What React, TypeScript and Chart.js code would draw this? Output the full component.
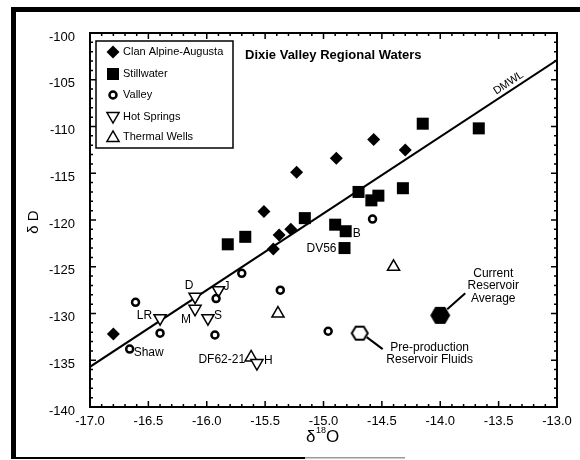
import React, { useEffect, useRef } from 'react';
import { Chart, registerables } from 'chart.js';

Chart.register(...registerables);

const FONT = '"Liberation Sans", Arial, Helvetica, sans-serif';

// ---- data ----
const clanAlpineX = [-16.8, -15.43, -15.38, -15.28, -15.51, -15.23, -14.89, -14.57, -14.3];
const clanAlpineY = [-132.2, -123.1, -121.6, -121.0, -119.1, -114.9, -113.4, -111.4, -112.5];

const stillwaterX = [-15.82, -15.67, -15.16, -14.9, -14.81, -14.82, -14.7, -14.59, -14.53, -14.32, -14.15, -13.67];
const stillwaterY = [-122.6, -121.8, -119.8, -120.5, -121.2, -123.0, -117.0, -117.9, -117.4, -116.6, -109.7, -110.2];
const stillwaterLabels = ['', '', '', '', 'B', 'DV56', '', '', '', '', '', ''];

const valleyX = [-16.61, -16.66, -16.4, -15.92, -15.93, -15.7, -15.37, -14.58, -14.96];
const valleyY = [-128.8, -133.8, -132.1, -128.4, -132.3, -125.7, -127.5, -119.9, -131.9];
const valleyLabels = ['', 'Shaw', '', '', '', '', '', '', ''];

const hotSpringsX = [-16.4, -16.1, -16.1, -15.99, -15.9, -15.57];
const hotSpringsY = [-130.5, -128.2, -129.5, -130.5, -127.5, -135.3];
const hotSpringsLabels = ['LR', 'D', 'M', 'S', 'J', 'H'];

const thermalX = [-15.62, -15.39, -14.4];
const thermalY = [-134.7, -130.0, -125.0];
const thermalLabels = ['DF62-21', '', ''];

const currentX = [-14.0];
const currentY = [-130.2];
const preProdX = [-14.69];
const preProdY = [-132.1];

const dmwlX = [-17, -13];
const dmwlY = [-135.7, -102.9];

const seriesNames = ['Clan Alpine-Augusta', 'Stillwater', 'Valley', 'Hot Springs', 'Thermal Wells'];
const xTickMin = -17;
const xTickMax = -13;
const yTickMin = -140;
const yTickMax = -100;

const pts = (xs: number[], ys: number[]) => xs.map((x, i) => ({ x, y: ys[i] }));

// label placement (px offsets from the mark; style only)
const labelPlacement: Record<string, { dx: number; dy: number; align: CanvasTextAlign }> = {
  LR: { dx: -8, dy: -2, align: 'right' },
  D: { dx: -6, dy: -11, align: 'center' },
  M: { dx: -9, dy: 11, align: 'center' },
  S: { dx: 6, dy: -2, align: 'left' },
  J: { dx: 5, dy: -3, align: 'left' },
  H: { dx: 7, dy: -2, align: 'left' },
  Shaw: { dx: 4, dy: 4, align: 'left' },
  'DF62-21': { dx: -6, dy: 2, align: 'right' },
  B: { dx: 7, dy: 2, align: 'left' },
  DV56: { dx: -8, dy: 1, align: 'right' },
};

function hexCanvas(w: number, h: number, filled: boolean) {
  const lw = 2;
  const c = document.createElement('canvas');
  c.width = w + lw * 2;
  c.height = h + lw * 2;
  const g = c.getContext('2d')!;
  const cx = c.width / 2, cy = c.height / 2, rx = w / 2, ry = h / 2;
  g.beginPath();
  g.moveTo(cx - rx, cy);
  g.lineTo(cx - rx / 2, cy - ry);
  g.lineTo(cx + rx / 2, cy - ry);
  g.lineTo(cx + rx, cy);
  g.lineTo(cx + rx / 2, cy + ry);
  g.lineTo(cx - rx / 2, cy + ry);
  g.closePath();
  if (filled) {
    g.fillStyle = '#000';
    g.fill();
  } else {
    g.fillStyle = '#fff';
    g.fill();
    g.lineWidth = lw;
    g.strokeStyle = '#000';
    g.stroke();
  }
  return c;
}

function drawMarker(ctx: CanvasRenderingContext2D, kind: number, x: number, y: number) {
  ctx.save();
  ctx.fillStyle = '#000';
  ctx.strokeStyle = '#000';
  ctx.beginPath();
  if (kind === 0) {
    const r = 6.5;
    ctx.moveTo(x - r, y); ctx.lineTo(x, y - r); ctx.lineTo(x + r, y); ctx.lineTo(x, y + r); ctx.closePath();
    ctx.fill();
  } else if (kind === 1) {
    ctx.rect(x - 6, y - 6, 12, 12);
    ctx.fill();
  } else if (kind === 2) {
    ctx.lineWidth = 2.5;
    ctx.arc(x, y, 3.5, 0, Math.PI * 2);
    ctx.stroke();
  } else if (kind === 3) {
    const r = 7;
    ctx.lineWidth = 1.5;
    ctx.moveTo(x - r * 0.866, y - r * 0.5 - 1); ctx.lineTo(x + r * 0.866, y - r * 0.5 - 1); ctx.lineTo(x, y + r - 1); ctx.closePath();
    ctx.stroke();
  } else {
    const r = 7;
    ctx.lineWidth = 1.5;
    ctx.moveTo(x - r * 0.866, y + r * 0.5 + 1); ctx.lineTo(x + r * 0.866, y + r * 0.5 + 1); ctx.lineTo(x, y - r + 1); ctx.closePath();
    ctx.stroke();
  }
  ctx.restore();
}

const decorPlugin = {
  id: 'decor',
  afterDatasetsDraw(chart: any) {
    const ctx: CanvasRenderingContext2D = chart.ctx;
    const xs = chart.scales.x, ys = chart.scales.y, a = chart.chartArea;
    ctx.save();
    // outer frame
    ctx.fillStyle = '#000';
    ctx.fillRect(11, 7, 5, 452);
    ctx.fillRect(11, 7, 569, 5);
    ctx.fillRect(11, 457, 294, 2);
    ctx.fillStyle = '#999';
    ctx.fillRect(305, 457, 100, 1.5);

    // inside ticks
    ctx.strokeStyle = '#000';
    ctx.lineWidth = 1.5;
    const nx = Math.round((xTickMax - xTickMin) / 0.1);
    for (let i = 0; i <= nx; i++) {
      const px = xs.getPixelForValue(xTickMin + i * 0.1);
      const len = i % 5 === 0 ? 6 : 3;
      ctx.beginPath();
      ctx.moveTo(px, a.bottom); ctx.lineTo(px, a.bottom - len);
      ctx.moveTo(px, a.top); ctx.lineTo(px, a.top + len);
      ctx.stroke();
    }
    const ny = yTickMax - yTickMin;
    for (let i = 0; i <= ny; i++) {
      const py = ys.getPixelForValue(yTickMin + i);
      const len = i % 5 === 0 ? 6 : 3;
      ctx.beginPath();
      ctx.moveTo(a.left, py); ctx.lineTo(a.left + len, py);
      ctx.moveTo(a.right, py); ctx.lineTo(a.right - len, py);
      ctx.stroke();
    }
    ctx.lineWidth = 2;
    ctx.strokeRect(a.left, a.top, a.right - a.left, a.bottom - a.top);

    // title
    ctx.fillStyle = '#000';
    ctx.font = `bold 13px ${FONT}`;
    ctx.textAlign = 'left';
    ctx.textBaseline = 'middle';
    ctx.fillText('Dixie Valley Regional Waters', 245, 55);

    // legend
    ctx.fillStyle = '#fff';
    ctx.fillRect(96, 41, 137, 107);
    ctx.strokeStyle = '#000';
    ctx.lineWidth = 1.5;
    ctx.strokeRect(96, 41, 137, 107);
    const rows = [52, 74, 95, 117, 137];
    ctx.font = `11px ${FONT}`;
    ctx.fillStyle = '#000';
    seriesNames.forEach((n, i) => {
      drawMarker(ctx, i, 113, rows[i]);
      ctx.fillStyle = '#000';
      ctx.textAlign = 'left';
      ctx.fillText(n, 123, rows[i]);
    });

    // point labels
    ctx.font = `12px ${FONT}`;
    const labelSets: [number, string[]][] = [[1, stillwaterLabels], [2, valleyLabels], [3, hotSpringsLabels], [4, thermalLabels]];
    labelSets.forEach(([di, labels]) => {
      const meta = chart.getDatasetMeta(di);
      labels.forEach((lab, i) => {
        if (!lab) return;
        const el = meta.data[i];
        const p = labelPlacement[lab];
        ctx.textAlign = p.align;
        ctx.fillText(lab, el.x + p.dx, el.y + p.dy);
      });
    });

    // current reservoir annotation
    const cur = chart.getDatasetMeta(5).data[0];
    ctx.lineWidth = 2;
    ctx.beginPath();
    ctx.moveTo(cur.x + 7, cur.y - 6); ctx.lineTo(cur.x + 25, cur.y - 22);
    ctx.stroke();
    ctx.textAlign = 'center';
    ctx.fillText('Current', cur.x + 53, cur.y - 42);
    ctx.fillText('Reservoir', cur.x + 53, cur.y - 29.5);
    ctx.fillText('Average', cur.x + 53, cur.y - 17);

    const pre = chart.getDatasetMeta(6).data[0];
    ctx.beginPath();
    ctx.moveTo(pre.x + 7, pre.y + 4); ctx.lineTo(pre.x + 23, pre.y + 16);
    ctx.stroke();
    ctx.fillText('Pre-production', pre.x + 70, pre.y + 15);
    ctx.fillText('Reservoir Fluids', pre.x + 70, pre.y + 27);

    // DMWL label along the line
    const x0 = xs.getPixelForValue(dmwlX[0]), y0 = ys.getPixelForValue(dmwlY[0]);
    const x1 = xs.getPixelForValue(dmwlX[1]), y1 = ys.getPixelForValue(dmwlY[1]);
    const ang = Math.atan2(y1 - y0, x1 - x0);
    const t = 0.905;
    const lx = x0 + (x1 - x0) * t, ly = y0 + (y1 - y0) * t;
    ctx.save();
    ctx.translate(lx, ly);
    ctx.rotate(ang);
    ctx.font = `11px ${FONT}`;
    ctx.textAlign = 'center';
    ctx.textBaseline = 'bottom';
    ctx.fillText('DMWL', 0, -2);
    ctx.restore();

    // axis titles
    ctx.save();
    ctx.translate(34, 222);
    ctx.rotate(-Math.PI / 2);
    ctx.font = `15px ${FONT}`;
    ctx.textAlign = 'center';
    ctx.textBaseline = 'middle';
    ctx.fillText('δ D', 0, 0);
    ctx.restore();

    ctx.textAlign = 'left';
    ctx.textBaseline = 'alphabetic';
    ctx.font = `17px ${FONT}`;
    ctx.fillText('δ', 306, 442);
    ctx.font = `9px ${FONT}`;
    ctx.fillText('18', 316, 433);
    ctx.font = `17px ${FONT}`;
    ctx.fillText('O', 326, 442);
    ctx.restore();
  },
};

export default function App() {
  const ref = useRef<HTMLCanvasElement>(null);
  useEffect(() => {
    const canvas = ref.current!;
    const chart = new Chart(canvas, {
      type: 'scatter',
      data: {
        datasets: [
          { label: seriesNames[0], data: pts(clanAlpineX, clanAlpineY), pointStyle: 'rectRot', pointRadius: 6.5, backgroundColor: '#000', borderColor: '#000', borderWidth: 0 },
          { label: seriesNames[1], data: pts(stillwaterX, stillwaterY), pointStyle: 'rect', pointRadius: 8.5, backgroundColor: '#000', borderColor: '#000', borderWidth: 0 },
          { label: seriesNames[2], data: pts(valleyX, valleyY), pointStyle: 'circle', pointRadius: 3.5, backgroundColor: 'rgba(255,255,255,0)', borderColor: '#000', borderWidth: 2.5 },
          { label: seriesNames[3], data: pts(hotSpringsX, hotSpringsY), pointStyle: 'triangle', rotation: 180, pointRadius: 7, backgroundColor: '#fff', borderColor: '#000', borderWidth: 1.5 },
          { label: seriesNames[4], data: pts(thermalX, thermalY), pointStyle: 'triangle', pointRadius: 7, backgroundColor: '#fff', borderColor: '#000', borderWidth: 1.5 },
          { label: 'Current Reservoir Average', data: pts(currentX, currentY), pointStyle: hexCanvas(20, 17, true) as any, pointRadius: 10 },
          { label: 'Pre-production Reservoir Fluids', data: pts(preProdX, preProdY), pointStyle: hexCanvas(16, 13, false) as any, pointRadius: 8 },
          { label: 'DMWL', data: pts(dmwlX, dmwlY), showLine: true, pointRadius: 0, borderColor: '#000', borderWidth: 2, backgroundColor: '#000' } as any,
        ],
      },
      options: {
        responsive: false,
        animation: false,
        events: [],
        layout: { padding: { left: 0, top: 33, right: 23, bottom: 0 } },
        plugins: { legend: { display: false }, tooltip: { enabled: false }, title: { display: false } },
        scales: {
          x: {
            type: 'linear',
            min: xTickMin,
            max: xTickMax,
            grid: { display: false, drawTicks: false },
            border: { display: false },
            ticks: { stepSize: 0.5, color: '#000', padding: 7, font: { family: FONT, size: 13 }, callback: (v: any) => Number(v).toFixed(1), maxRotation: 0, autoSkip: false },
            afterFit: (s: any) => { s.height = 53; },
          },
          y: {
            type: 'linear',
            min: yTickMin,
            max: yTickMax,
            grid: { display: false, drawTicks: false },
            border: { display: false },
            ticks: { stepSize: 5, color: '#000', padding: 15, labelOffset: 4, font: { family: FONT, size: 13 }, callback: (v: any) => String(v), autoSkip: false },
            afterFit: (s: any) => { s.width = 90; },
          },
        },
      } as any,
      plugins: [decorPlugin],
    });
    return () => chart.destroy();
  }, []);
  return (
    <div style={{ position: 'fixed', left: 0, top: 0, width: 580, height: 460, background: '#fff' }}>
      <canvas ref={ref} width={580} height={460} style={{ display: 'block', width: 580, height: 460 }} />
    </div>
  );
}
